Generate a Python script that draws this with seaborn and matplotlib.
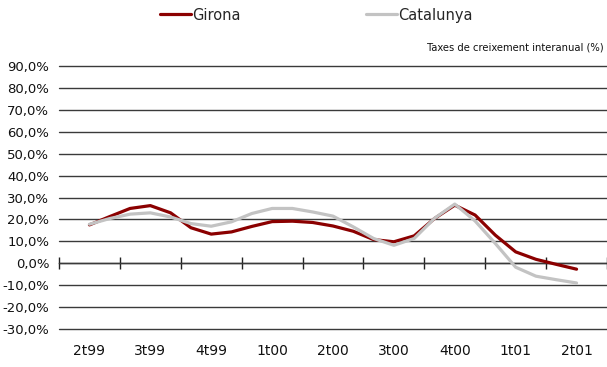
import numpy as np
import pandas as pd
import seaborn as sns
import matplotlib.pyplot as plt
from matplotlib.ticker import FuncFormatter

# Quarter labels (each spans three monthly observations)
quarters = ['2t99', '3t99', '4t99', '1t00', '2t00', '3t00', '4t00', '1t01', '2t01']
months = list(range(25))

girona = [17.5, 21.3, 25.0, 26.3, 23.0, 16.2, 13.3, 14.3, 16.8, 19.0, 19.2, 18.6, 17.0,
          14.6, 10.8, 9.8, 12.5, 20.4, 26.5, 22.0, 12.8, 5.2, 1.8, -0.5, -2.7]
catalunya = [17.8, 20.4, 22.4, 23.0, 21.1, 18.1, 16.9, 18.9, 22.7, 25.0, 25.0, 23.4, 21.5,
             16.6, 11.3, 8.2, 11.3, 20.5, 27.0, 19.3, 9.0, -1.8, -5.9, -7.5, -9.0]

series = ['Girona', 'Catalunya']
colors = {'Girona': '#8B0000', 'Catalunya': '#C3C3C3'}

sns.set_theme(style='white')
plt.rcParams['font.family'] = ['DejaVu Sans']

df = pd.DataFrame({
    'mes': months * 2,
    'valor': girona + catalunya,
    'serie': ['Girona'] * len(months) + ['Catalunya'] * len(months),
})

fig = plt.figure(figsize=(6.07, 3.67), dpi=100)
ax = fig.add_axes([0.0972, 0.1035, 0.9028, 0.7167])

sns.lineplot(data=df, x='mes', y='valor', hue='serie', hue_order=series,
             palette=colors, linewidth=2.3, ax=ax, legend=True)
for ln in ax.lines:
    ln.set_solid_joinstyle('round')
    ln.set_solid_capstyle('round')

ax.set_xlim(-1.5, 25.5)
ax.set_ylim(-30, 90)
ax.set_yticks(np.arange(-30, 91, 10))
ax.yaxis.set_major_formatter(FuncFormatter(lambda v, p: f"{v:.1f}%".replace('.', ',')))
ax.yaxis.grid(True, color='#3a3a3a', linewidth=1)
ax.xaxis.grid(False)
for gl in ax.get_ygridlines():
    gl.set_clip_on(False)
ax.set_xticks(months[::3])
ax.set_xticklabels(quarters)
ax.tick_params(axis='x', length=0, pad=11, labelsize=10, colors='#111111')
ax.tick_params(axis='y', length=0, pad=7, labelsize=9.5, colors='#111111')
ax.set_xlabel('')
ax.set_ylabel('')
for s in ax.spines.values():
    s.set_visible(False)

# zero axis line with tick marks between quarters
sec = ax.secondary_xaxis(0.25)
sec.set_xticks(np.arange(-1.5, 25.6, 3))
sec.tick_params(direction='inout', length=8, width=1, color='#222222', labelbottom=False)
sec.spines['bottom'].set_color('#222222')
sec.spines['bottom'].set_linewidth(1)

handles, labels = ax.get_legend_handles_labels()
ax.get_legend().remove()
fig.legend(handles, labels, loc='center', bbox_to_anchor=(0.521, 0.959), ncol=2,
           frameon=False, handlelength=2.1, handletextpad=0.1, columnspacing=8.6,
           fontsize=10.5)

fig.text(0.995, 1 - 47 / 367, 'Taxes de creixement interanual (%)', ha='right', va='center',
         fontsize=8, fontstretch='condensed', color='#111111')

fig.savefig('out.png', dpi=100)
